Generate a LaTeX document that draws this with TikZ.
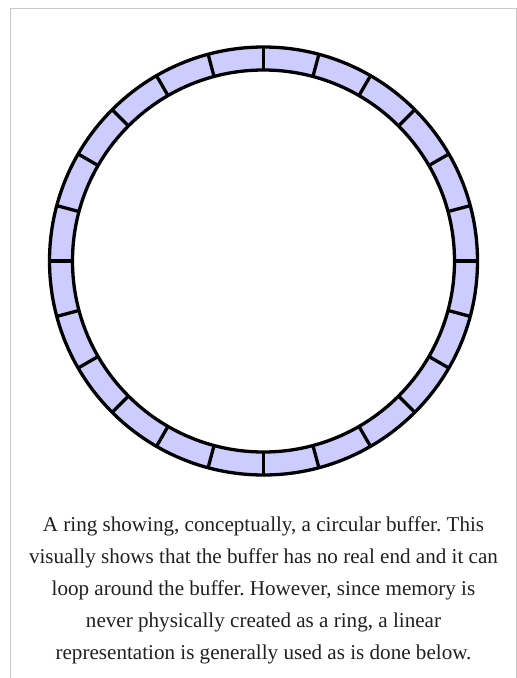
\documentclass[tikz,border=0pt]{standalone}
\usepackage{fontspec}
\setmainfont{Liberation Serif}
\usetikzlibrary{calc}
\frenchspacing
\definecolor{ringfill}{RGB}{204,204,255}
\definecolor{framegray}{RGB}{200,200,200}
\definecolor{captext}{RGB}{32,32,32}
\begin{document}
\begin{tikzpicture}[x=1pt,y=-1pt,
  caption/.style={anchor=base,inner sep=0pt,font=\fontsize{21.1}{25}\selectfont,text=captext},
  ringline/.style={line width=3.3pt,black}]
\useasboundingbox (0,0) rectangle (517,678);
\fill[white] (0,0) rectangle (517,678);
% frame
\draw[framegray,line width=1pt] (10.5,678) -- (10.5,8.5) -- (516,8.5) -- (516,678);
% ring
\coordinate (c) at (263.5,261);
\fill[ringfill,even odd rule] (c) circle[radius=214] (c) circle[radius=191];
\foreach \k in {0,...,23}{
  \draw[ringline] ($(c)+({90+15*\k}:191)$) -- ($(c)+({90+15*\k}:214)$);
}
\draw[ringline] (c) circle[radius=214];
\draw[ringline] (c) circle[radius=191];
% caption
\node[caption] (l1) at (263.5,531) {A ring showing, conceptually, a circular buffer. This};
\node[caption] (l2) at (263.5,563.5) {visually shows that the buffer has no real end and it can};
\node[caption] (l3) at (263.5,595.5) {loop around the buffer. However, since memory is};
\node[caption] (l4) at (263.5,627.5) {never physically created as a ring, a linear};
\node[caption] (l5) at (263.5,659.5) {representation is generally used as is done below.};
\end{tikzpicture}
\end{document}
